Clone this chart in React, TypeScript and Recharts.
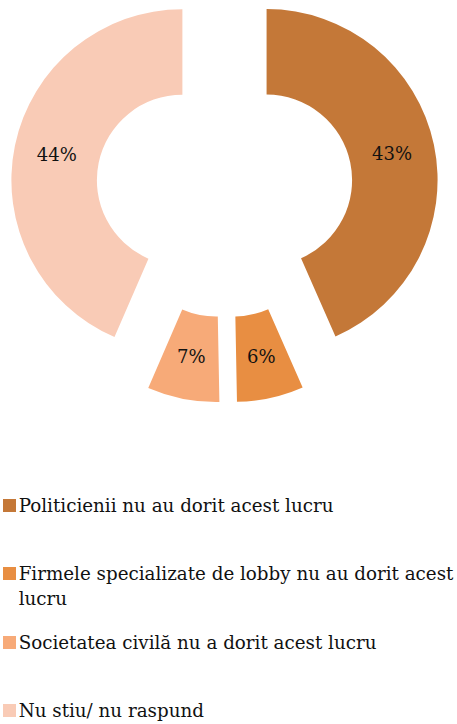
import React from 'react'
import { PieChart, Pie, Cell, Legend } from 'recharts'

const categories = [
  'Politicienii nu au dorit acest lucru',
  'Firmele specializate de lobby nu au dorit acest lucru',
  'Societatea civilă nu a dorit acest lucru',
  'Nu stiu/ nu raspund',
]
const values = [43.4, 6.3, 6.8, 43.5]
const labels = ['43%', '6%', '7%', '44%']

const colors = ['#C47838', '#E88E42', '#F7AA78', '#F9CBB6']

const data = categories.map((name, i) => ({ name, value: values[i] }))

const CX = 224.5
const CY = 188.9
const EXPLODE = 43
const RAD = Math.PI / 180
const FONT = '"DejaVu Serif", serif'

const total = values.reduce((a, b) => a + b, 0)
const offsets = values.map((v, i) => {
  const before = values.slice(0, i).reduce((a, b) => a + b, 0)
  const mid = 90 - ((before + v / 2) / total) * 360
  return { dx: EXPLODE * Math.cos(mid * RAD), dy: -EXPLODE * Math.sin(mid * RAD) }
})

const renderLabel = (only: number) => (props: any) => {
  const { cx, cy, midAngle, innerRadius, outerRadius, index } = props
  if (index !== only) return null
  const r = (innerRadius + outerRadius) / 2
  const x = cx + r * Math.cos(-midAngle * RAD)
  const y = cy + r * Math.sin(-midAngle * RAD)
  return (
    <text x={x} y={y} textAnchor="middle" dominantBaseline="central" fill="#111" fontSize={18} fontFamily={FONT}>
      {labels[index]}
    </text>
  )
}

const LegendContent = () => (
  <div style={{ fontFamily: FONT, fontSize: 18.3, color: '#111' }}>
    {categories.map((c, i) => (
      <div key={c} style={{ position: 'relative', height: 68.5, paddingLeft: 18.7, width: 438, lineHeight: '25px' }}>
        <span style={{ position: 'absolute', left: 3, top: 6, width: 13, height: 13, background: colors[i] }} />
        {c}
      </div>
    ))}
  </div>
)

export default function App() {
  return (
    <div style={{ position: 'absolute', left: 0, top: 0 }}>
      <PieChart width={457} height={724} margin={{ top: 0, right: 0, bottom: 0, left: 0 }}>
        {values.map((_, i) => (
          <Pie
            key={i}
            data={data}
            dataKey="value"
            nameKey="name"
            cx={CX + offsets[i].dx}
            cy={CY + offsets[i].dy}
            startAngle={90}
            endAngle={-270}
            innerRadius={85.5}
            outerRadius={171}
            stroke="none"
            label={renderLabel(i)}
            labelLine={false}
            isAnimationActive={false}
          >
            {data.map((d, j) => (
              <Cell key={d.name} fill={j === i ? colors[j] : 'none'} />
            ))}
          </Pie>
        ))}
        <Legend content={<LegendContent />} wrapperStyle={{ top: 492.5, left: 0, width: 457 }} />
      </PieChart>
    </div>
  )
}
